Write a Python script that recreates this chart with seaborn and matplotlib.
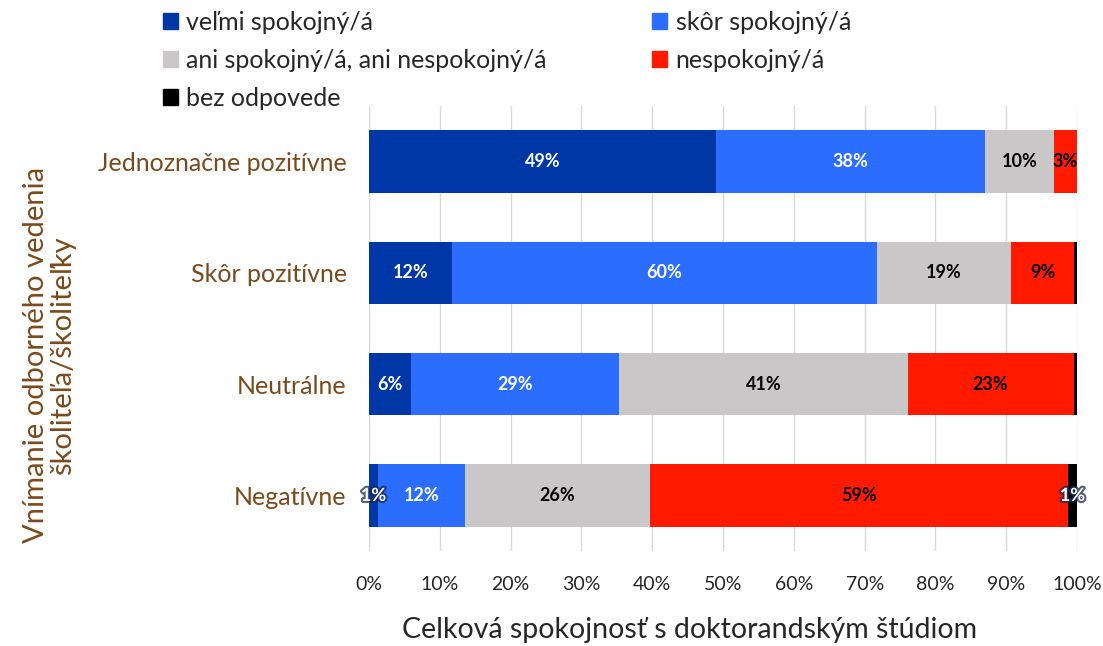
import matplotlib
matplotlib.use("Agg")
import matplotlib.pyplot as plt
import matplotlib.patheffects as pe
from matplotlib.patches import Patch
import seaborn as sns
import pandas as pd
import numpy as np

categories = ['Jednoznačne pozitívne', 'Skôr pozitívne', 'Neutrálne', 'Negatívne']
series = ['veľmi spokojný/á', 'skôr spokojný/á', 'ani spokojný/á, ani nespokojný/á',
          'nespokojný/á', 'bez odpovede']
velmi = [49.0, 11.7, 5.9, 1.3]
skor = [38.0, 60.0, 29.4, 12.3]
ani = [9.7, 19.0, 40.8, 26.1]
nespokojny = [3.3, 8.9, 23.4, 59.0]
bez = [0.0, 0.4, 0.5, 1.3]

colors = ['#0037A6', '#2B6EFF', '#C9C7C7', '#FF1A00', '#000000']
label_colors = ['white', 'white', 'black', 'black', 'white']
brown = '#7A4A1C'

sns.set_style('white')
plt.rcParams['font.family'] = ['Lato', 'DejaVu Sans']

values = np.array([velmi, skor, ani, nespokojny, bez])
cum = values.cumsum(axis=0)

fig = plt.figure(figsize=(11.03, 6.46), dpi=100)
ax = fig.add_axes([0.3345, 0.147, 0.642, 0.689])

# draw cumulative bars from the total back to the first series
for i in range(len(series) - 1, -1, -1):
    df = pd.DataFrame({'cat': categories, 'val': cum[i]})
    sns.barplot(data=df, y='cat', x='val', orient='h', color=colors[i],
                width=0.56, saturation=1, ax=ax, linewidth=0)

# data labels
for i in range(len(series)):
    for j in range(len(categories)):
        v = values[i, j]
        if round(v) < 1:
            continue
        x = cum[i, j] - v / 2
        t = ax.text(x, j, f'{round(v):.0f}%', ha='center', va='center',
                    color=label_colors[i], fontsize=13, fontweight='bold')
        if v < 2:
            t.set_path_effects([pe.withStroke(linewidth=3, foreground='#1A2A50', alpha=0.75)])

ax.set_xlim(0, 100)
ax.set_ylim(3.5, -0.5)
ax.set_xticks(np.arange(0, 101, 10))
ax.set_xticklabels([f'{x}%' for x in range(0, 101, 10)], fontsize=14)
ax.xaxis.grid(True, color='#D9D9D9', linewidth=1)
ax.set_axisbelow(True)
for s in ax.spines.values():
    s.set_visible(False)
ax.tick_params(axis='y', length=0, labelsize=18, labelcolor=brown, pad=16)
ax.tick_params(axis='x', length=0, pad=18)
ax.set_ylabel('')
ax.set_xlabel('')

fig.text(0.625, 0.004, 'Celková spokojnosť s doktorandským štúdiom', ha='center',
         va='bottom', fontsize=20.5)
fig.text(0.045, 0.45, 'Vnímanie odborného vedenia\nškoliteľa/školiteľky', rotation=90,
         ha='center', va='center', color=brown, fontsize=21, linespacing=1.05)

handles = [Patch(color=c, label=s) for c, s in zip(colors, series)]
order = [0, 2, 4, 1, 3]
fig.legend([handles[k] for k in order], [series[k] for k in order], ncol=2,
           loc='upper left', bbox_to_anchor=(0.127, 1.018), frameon=False,
           fontsize=18, handlelength=0.6, handleheight=0.6, handletextpad=0.35,
           columnspacing=4.2, labelspacing=0.6)

fig.savefig('out.png', dpi=100)
